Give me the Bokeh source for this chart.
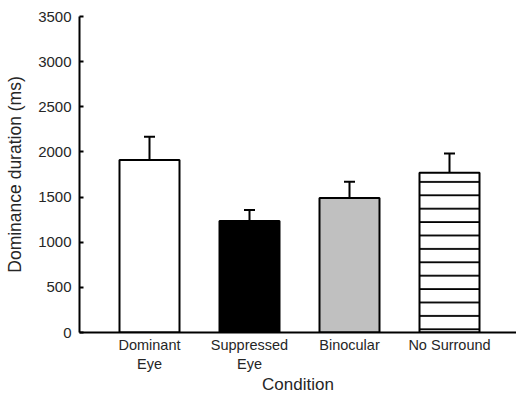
from bokeh.plotting import figure
from bokeh.models import Range1d, FixedTicker, ColumnDataSource, Whisker, TeeHead
from bokeh.embed import file_html
from bokeh.resources import INLINE

categories = ["Dominant\nEye", "Suppressed\nEye", "Binocular", "No Surround"]
positions = [0, 1, 2, 3]
durations = [1910, 1235, 1490, 1770]
sem = [257, 123, 180, 213]
fills = ["white", "black", "#c0c0c0", "white"]
hatches = [" ", " ", " ", "horizontal_line"]
y_ticks = [0, 500, 1000, 1500, 2000, 2500, 3000, 3500]

FONT = "Liberation Sans"
TXT = "#262626"

upper = [d + e for d, e in zip(durations, sem)]
src = ColumnDataSource(dict(x=positions, top=durations, fill=fills, hatch=hatches,
                            upper=upper, lower=durations))

p = figure(width=516, height=396, output_backend="svg", toolbar_location=None,
           x_range=Range1d(-0.7, 3.67), y_range=Range1d(0, 3500),
           min_border_left=79, min_border_right=0, min_border_top=16, min_border_bottom=63)
p.outline_line_color = None
p.xgrid.visible = False
p.ygrid.visible = False
p.background_fill_color = "white"
p.border_fill_color = "white"

p.vbar(x="x", top="top", bottom=0, width=0.6, source=src, fill_color="fill",
       line_color="black", line_width=2, hatch_pattern="hatch", hatch_color="black",
       hatch_scale=13.4, hatch_weight=1.8)

w = Whisker(base="x", upper="upper", lower="lower", source=src, line_color="black", line_width=2,
            upper_head=TeeHead(size=11, line_width=2, line_color="black"), lower_head=None)
p.add_layout(w)

xa = p.xaxis[0]
xa.ticker = FixedTicker(ticks=positions)
xa.major_label_overrides = {pos: lab for pos, lab in zip(positions, categories)}
xa.major_tick_out = 0
xa.major_tick_in = 0
xa.minor_tick_out = 0
xa.minor_tick_in = 0
xa.axis_line_width = 2
xa.axis_line_color = "black"
xa.major_label_text_font = FONT
xa.major_label_text_font_size = "14.5px"
xa.major_label_text_color = TXT
xa.major_label_standoff = 4
xa.axis_label = "Condition"
xa.axis_label_text_font = FONT
xa.axis_label_text_font_size = "17px"
xa.axis_label_text_font_style = "normal"
xa.axis_label_text_color = TXT
xa.axis_label_standoff = 0

ya = p.yaxis[0]
ya.ticker = FixedTicker(ticks=y_ticks)
ya.major_tick_in = 4
ya.major_tick_out = 0
ya.minor_tick_out = 0
ya.minor_tick_in = 0
ya.axis_line_width = 2
ya.axis_line_color = "black"
ya.major_tick_line_width = 2
ya.major_label_text_font = FONT
ya.major_label_text_font_size = "15px"
ya.major_label_text_color = TXT
ya.major_label_standoff = 8
ya.axis_label = "Dominance duration (ms)"
ya.axis_label_text_font = FONT
ya.axis_label_text_font_size = "17.5px"
ya.axis_label_text_font_style = "normal"
ya.axis_label_text_color = TXT
ya.axis_label_standoff = 10

open("out.html", "w").write(file_html(p, INLINE))
